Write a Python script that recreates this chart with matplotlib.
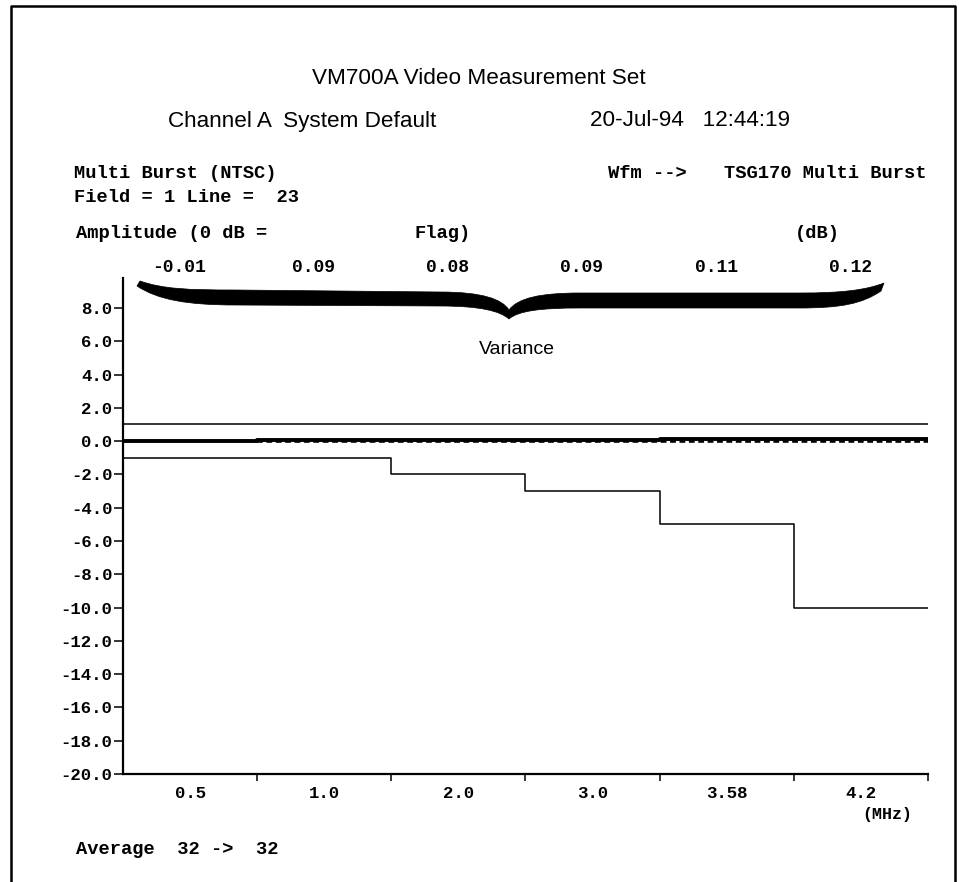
import matplotlib
matplotlib.use("Agg")
import matplotlib.pyplot as plt
import matplotlib.transforms as mtransforms
from matplotlib.path import Path
from matplotlib.patches import PathPatch
from matplotlib.lines import Line2D
import numpy as np

# data
freq_labels = ["0.5", "1.0", "2.0", "3.0", "3.58", "4.2"]
amplitude_db = [-0.01, 0.09, 0.08, 0.09, 0.11, 0.12]
upper_limit = [1.0, 1.0, 1.0, 1.0, 1.0, 1.0]
lower_limit = [-1.0, -1.0, -2.0, -3.0, -5.0, -10.0]
reference_db = [0.0, 0.0, 0.0, 0.0, 0.0, 0.0]
y_ticks = np.arange(-20, 9, 2)

W, H = 959, 882
MONO = "Liberation Mono"
SANS = ["Liberation Sans", "DejaVu Sans"]


def px(x, y):
    return x / W, 1 - y / H


fig = plt.figure(figsize=(W / 100, H / 100), dpi=100)
ax = fig.add_axes([123 / W, (H - 774) / H, (928 - 123) / W, (774 - 278) / H])

n = len(freq_labels)
edges = np.arange(n + 1)


def step(vals):
    return edges, list(vals) + [vals[-1]]


ax.step(*step(upper_limit), where="post", color="black", lw=1.1)
ax.step(*step(lower_limit), where="post", color="black", lw=1.1)
ax.step(edges[1:], reference_db[1:] + [reference_db[-1]], where="post",
        color="black", lw=2.6, dashes=(1.6, 1.0))
ax.step(*step(amplitude_db), where="post", color="black", lw=2.8)

ax.set_xlim(0, n)
ax.set_ylim(-20, 9.8)
for s in ["top", "right"]:
    ax.spines[s].set_visible(False)
for s in ["left", "bottom"]:
    ax.spines[s].set_linewidth(1.6)

ax.set_yticks(y_ticks)
ax.set_yticklabels([f"{v:.1f}" for v in y_ticks], fontfamily=MONO,
                   fontweight="bold", fontsize=12.5)
ax.tick_params(axis="y", direction="out", length=6.5, width=1.1, pad=1)

ax.set_xticks(edges[1:])
ax.set_xticklabels([])
ax.tick_params(axis="x", which="major", direction="out", length=5, width=1.1)
ax.set_xticks(edges[:-1] + 0.5, minor=True)
ax.set_xticklabels(freq_labels, minor=True, fontfamily=MONO,
                   fontweight="bold", fontsize=12.5)
ax.tick_params(axis="x", which="minor", length=0, pad=9)

# measured values above the plot
trans = mtransforms.blended_transform_factory(ax.transData, fig.transFigure)
for i, v in enumerate(amplitude_db):
    fig.text(i + 0.5 - 0.08, 1 - 267.7 / H, f"{v:.2f}", transform=trans,
             ha="center", va="center", fontfamily=MONO, fontweight="bold",
             fontsize=13)

# brace over the values
verts = [
    (140, 281), (163, 289), (188, 290), (235, 290),
    (440, 292),
    (482, 292), (502, 299), (509, 310),
    (518, 298), (540, 293), (580, 293),
    (800, 293),
    (842, 293), (866, 290), (884, 283),
    (881, 291),
    (862, 304), (840, 308), (800, 308),
    (580, 308),
    (540, 308), (518, 311), (509, 319),
    (500, 311), (480, 306), (440, 306),
    (235, 305),
    (188, 305), (158, 300), (137, 286),
    (140, 281),
]
codes = ([Path.MOVETO] + [Path.CURVE4] * 3 + [Path.LINETO] + [Path.CURVE4] * 3
         + [Path.CURVE4] * 3 + [Path.LINETO] + [Path.CURVE4] * 3 + [Path.LINETO]
         + [Path.CURVE4] * 3 + [Path.LINETO] + [Path.CURVE4] * 3
         + [Path.CURVE4] * 3 + [Path.LINETO] + [Path.CURVE4] * 3 + [Path.CLOSEPOLY])
brace = Path([px(x, y) for x, y in verts], codes)
fig.add_artist(PathPatch(brace, transform=fig.transFigure, facecolor="black",
                         edgecolor="black", lw=0.5))
fig.text(*px(517, 349), "Variance", ha="center", va="center",
         family=SANS, fontsize=14)

# header text
fig.text(*px(479, 79), "VM700A Video Measurement Set", ha="center",
         va="center", family=SANS, fontsize=16.2)
fig.text(*px(168, 121), "Channel A  System Default", ha="left", va="center",
         family=SANS, fontsize=16.2)
fig.text(*px(590, 121), "20-Jul-94   12:44:19", ha="left", va="center",
         family=SANS, fontsize=16.2)

mono_kw = dict(fontfamily=MONO, fontweight="bold", fontsize=13.5, va="center")
fig.text(*px(74, 173), "Multi Burst (NTSC)", ha="left", **mono_kw)
fig.text(*px(74, 197), "Field = 1 Line =  23", ha="left", **mono_kw)
fig.text(*px(608, 173), "Wfm -->", ha="left", **mono_kw)
fig.text(*px(926, 173), "TSG170 Multi Burst", ha="right", **mono_kw)
fig.text(*px(76, 233), "Amplitude (0 dB =", ha="left", **mono_kw)
fig.text(*px(414, 233), "Flag)", ha="left", **mono_kw)
fig.text(*px(795, 233), "(dB)", ha="left", **mono_kw)
fig.text(*px(76, 849), "Average  32 ->  32", ha="left", **mono_kw)
fig.text(*px(912, 814), "(MHz)", ha="right", fontfamily=MONO,
         fontweight="bold", fontsize=12, va="center")

# page border
fig.add_artist(Line2D([11 / W, 11 / W, 955 / W, 955 / W],
                      [0, 1 - 5.7 / H, 1 - 5.7 / H, 0],
                      transform=fig.transFigure, color="black", lw=1.8))

fig.savefig("out.png", dpi=100)
